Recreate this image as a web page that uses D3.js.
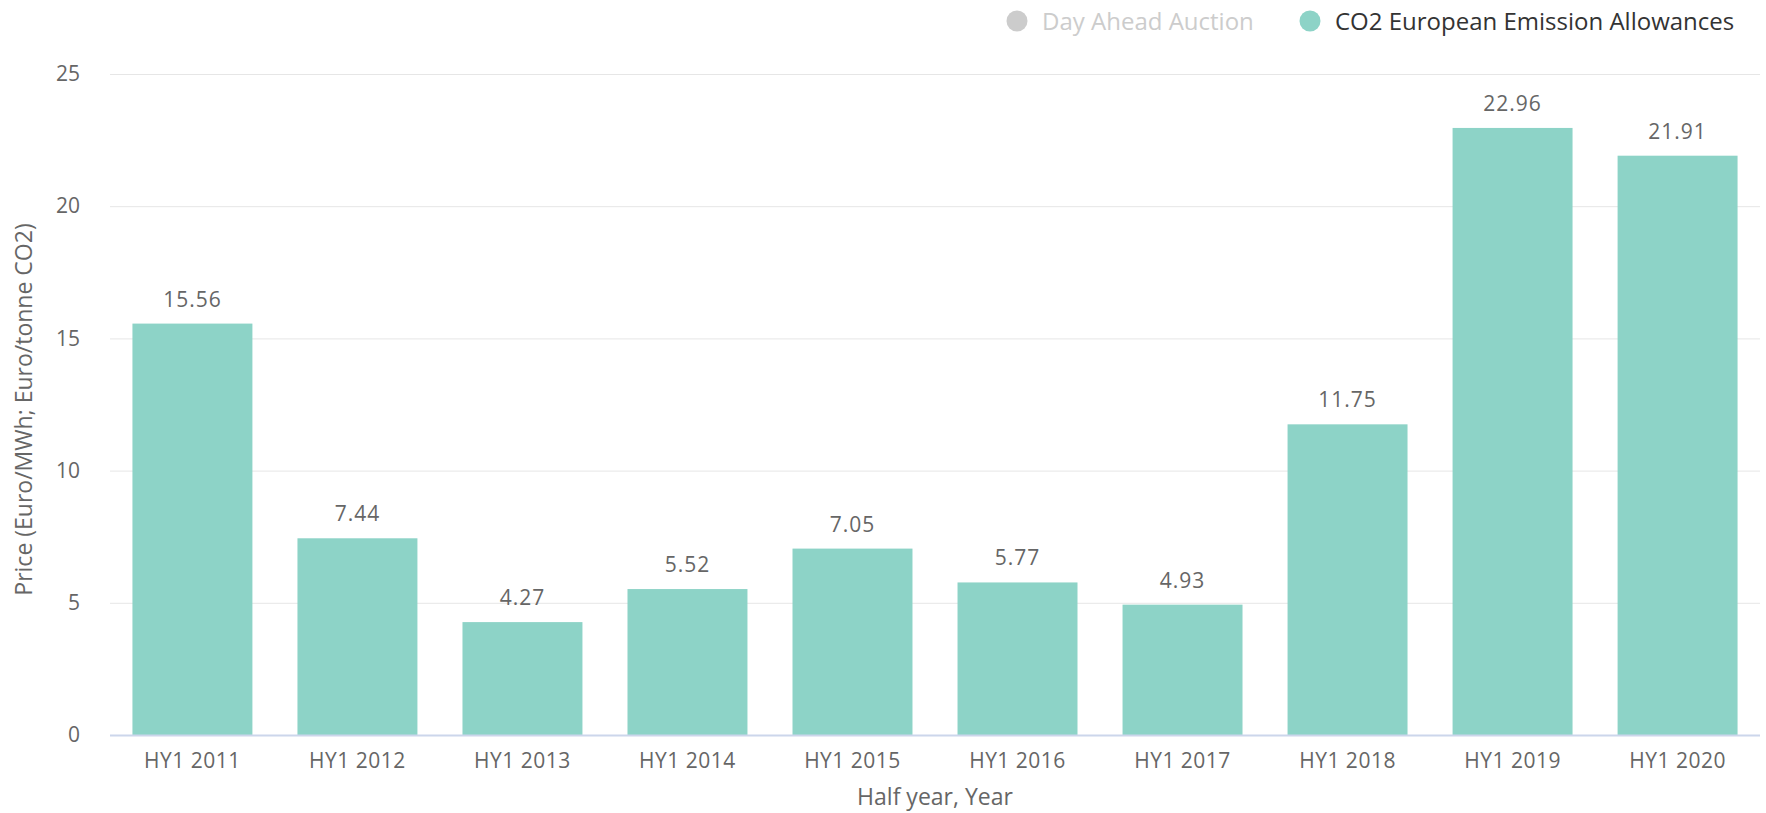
<!DOCTYPE html>
<html>
<head>
<meta charset="utf-8">
<script src="https://cdn.jsdelivr.net/npm/d3@7"></script>
<style>
  body { margin: 0; background: #fff; }
  svg { font-family: "Open Sans", sans-serif; }
</style>
</head>
<body>
<div id="chart"></div>
<script>
// data
var periods = ["HY1 2011", "HY1 2012", "HY1 2013", "HY1 2014", "HY1 2015",
               "HY1 2016", "HY1 2017", "HY1 2018", "HY1 2019", "HY1 2020"];
var co2Prices = [15.56, 7.44, 4.27, 5.52, 7.05, 5.77, 4.93, 11.75, 22.96, 21.91];
var yTicks = [0, 5, 10, 15, 20, 25];
var legendNames = ["Day Ahead Auction", "CO2 European Emission Allowances"];

var svgWidth = 1766;
var svgHeight = 813;

var margin = { top: 74, right: 6, bottom: 78, left: 110 };
var width = svgWidth - margin.left - margin.right;
var height = svgHeight - margin.top - margin.bottom;

var svg = d3.select("#chart")
  .append("svg")
  .attr("width", svgWidth)
  .attr("height", svgHeight);

var chartGroup = svg.append("g")
  .attr("transform", `translate(${margin.left}, ${margin.top})`);

// scales
var xScale = d3.scaleBand()
  .domain(periods)
  .range([0, width])
  .paddingInner(0.273)
  .paddingOuter(0.136);

var yScale = d3.scaleLinear()
  .domain([0, 25])
  .range([height, 0]);

// gridlines
chartGroup.append("g")
  .selectAll("line")
  .data(yTicks.filter(d => d > 0))
  .enter()
  .append("line")
  .attr("x1", 0)
  .attr("x2", width)
  .attr("y1", d => yScale(d) + 0.5)
  .attr("y2", d => yScale(d) + 0.5)
  .attr("stroke", "#e6e6e6")
  .attr("stroke-width", 1);

// y axis labels
var leftAxis = d3.axisLeft(yScale).tickValues(yTicks).tickSize(0).tickPadding(30);
var yAxisG = chartGroup.append("g").call(leftAxis);
yAxisG.select(".domain").remove();
yAxisG.selectAll("text")
  .attr("fill", "#666")
  .style("font-size", "21px")
  .style("font-family", "Open Sans, sans-serif");

// bars
chartGroup.selectAll(".bar")
  .data(co2Prices)
  .enter()
  .append("rect")
  .attr("class", "bar")
  .attr("x", (d, i) => xScale(periods[i]))
  .attr("y", d => yScale(d))
  .attr("width", xScale.bandwidth())
  .attr("height", d => height - yScale(d))
  .attr("fill", "#8dd3c7");

// value labels
chartGroup.selectAll(".valueLabel")
  .data(co2Prices)
  .enter()
  .append("text")
  .attr("class", "valueLabel")
  .attr("x", (d, i) => xScale(periods[i]) + xScale.bandwidth() / 2)
  .attr("y", d => yScale(d) - 17)
  .text(d => d.toFixed(2))
  .style("font-size", "21px")
  .style("letter-spacing", "1px")
  .style("text-anchor", "middle")
  .style("fill", "#666");

// x axis
var bottomAxis = d3.axisBottom(xScale).tickSize(0).tickPadding(18);
var xAxisG = chartGroup.append("g")
  .attr("transform", `translate(0, ${height})`)
  .call(bottomAxis);
xAxisG.select(".domain")
  .attr("stroke", "#ccd6eb")
  .attr("stroke-width", 2)
  .attr("d", `M0,0.5H${width}`);
xAxisG.selectAll("text")
  .attr("fill", "#666")
  .style("font-size", "21px")
  .style("letter-spacing", "0.5px")
  .style("font-family", "Open Sans, sans-serif");

// axis titles
chartGroup.append("text")
  .attr("transform", "rotate(-90)")
  .attr("x", -height / 2 - 5)
  .attr("y", -margin.left + 32)
  .style("text-anchor", "middle")
  .style("font-size", "23px")
  .style("fill", "#666")
  .text("Price (Euro/MWh; Euro/tonne CO2)");

chartGroup.append("text")
  .attr("x", width / 2)
  .attr("y", height + 70)
  .style("text-anchor", "middle")
  .style("font-size", "23px")
  .style("fill", "#666")
  .text("Half year, Year");

// legend
var legendItems = [
  { name: legendNames[0], x: 1017, dot: "#cccccc", color: "#cccccc" },
  { name: legendNames[1], x: 1310, dot: "#8dd3c7", color: "#333333" }
];
var legend = svg.append("g");
var item = legend.selectAll(".legendItem")
  .data(legendItems)
  .enter()
  .append("g")
  .attr("transform", d => `translate(${d.x}, 21)`);
item.append("circle")
  .attr("r", 10.5)
  .attr("fill", d => d.dot);
item.append("text")
  .attr("x", 25)
  .attr("dy", "0.36em")
  .style("font-size", "24px")
  .style("fill", d => d.color)
  .text(d => d.name);
</script>
</body>
</html>
